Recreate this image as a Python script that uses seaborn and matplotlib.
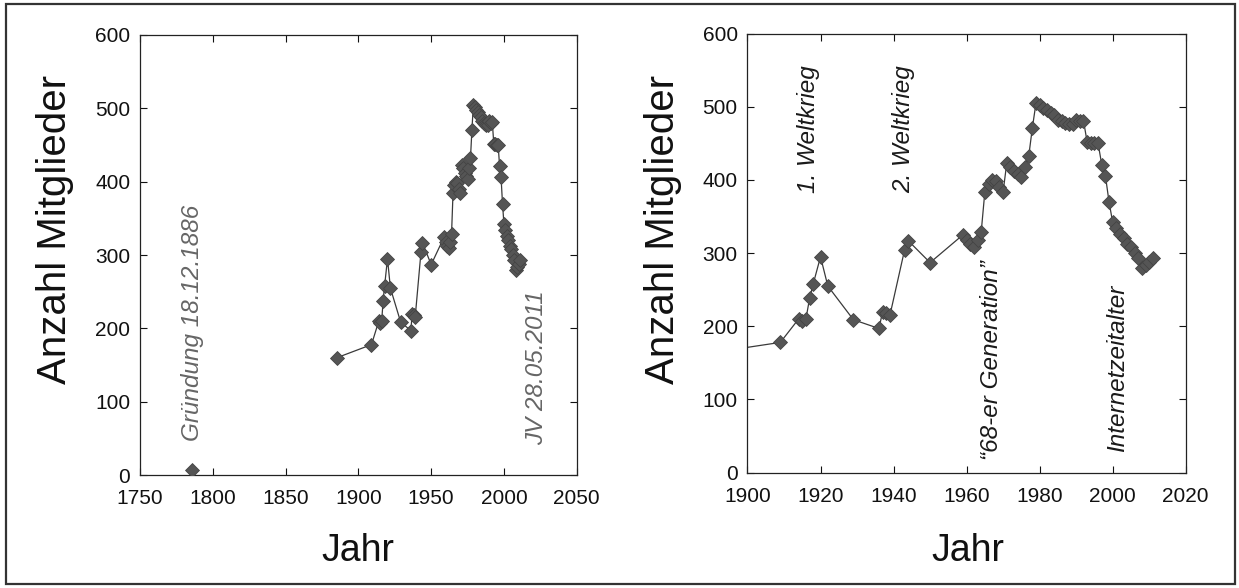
import matplotlib
matplotlib.use("Agg")
import matplotlib.pyplot as plt
import seaborn as sns
from matplotlib.patches import Rectangle

# Mitgliederzahlen
jahre = [1885, 1909, 1914, 1915, 1916, 1917, 1918, 1920, 1922, 1929,
         1936, 1937, 1938, 1939, 1943, 1944, 1950, 1959, 1960, 1961,
         1962, 1963, 1964, 1965, 1966, 1967, 1968, 1969, 1970, 1971,
         1972, 1973, 1974, 1975, 1976, 1977, 1978, 1979, 1980, 1981,
         1982, 1983, 1984, 1985, 1986, 1987, 1988, 1989, 1990, 1991,
         1992, 1993, 1994, 1995, 1996, 1997, 1998, 1999, 2000, 2001,
         2002, 2003, 2004, 2005, 2006, 2007, 2008, 2009, 2010, 2011]
mitglieder = [160, 178, 210, 207, 210, 238, 258, 295, 255, 209,
              197, 220, 218, 215, 304, 317, 287, 325, 318, 313,
              309, 318, 329, 384, 395, 400, 398, 390, 384, 423,
              418, 412, 408, 404, 418, 432, 471, 505, 502, 498,
              495, 491, 488, 482, 480, 478, 477, 477, 482, 480,
              481, 452, 451, 450, 450, 421, 406, 370, 342, 334,
              326, 320, 313, 308, 300, 293, 279, 284, 288, 293]

gruendung_jahr = [1786]
gruendung_wert = [7]

ytick_werte = [0, 100, 200, 300, 400, 500, 600]
xticks_links = [1750, 1800, 1850, 1900, 1950, 2000, 2050]
xticks_rechts = [1900, 1920, 1940, 1960, 1980, 2000, 2020]

sns.set_style("ticks")
plt.rcParams["font.family"] = ["Liberation Sans", "DejaVu Sans"]

MARKER = "#555555"
LINIE = "#3a3a3a"

fig = plt.figure(figsize=(12.39, 5.88), dpi=100)
ax1 = fig.add_axes([0.1130, 0.1917, 0.3525, 0.7490])
ax2 = fig.add_axes([0.6033, 0.1961, 0.3537, 0.7469])

# Rahmen um die ganze Abbildung
fig.patches.append(Rectangle((6 / 1239, 4 / 588), 1229 / 1239, 580 / 588,
                             transform=fig.transFigure, fill=False,
                             edgecolor="#333333", linewidth=1.6))

for ax in (ax1, ax2):
    sns.lineplot(x=jahre, y=mitglieder, ax=ax, color=LINIE, linewidth=0.9,
                 marker="D", markersize=7, markerfacecolor=MARKER,
                 markeredgecolor="#444444", markeredgewidth=0.6)
    ax.set_ylim(0, 600)
    ax.set_yticks(ytick_werte)
    ax.tick_params(direction="in", top=True, right=True, length=5,
                   width=0.8, labelsize=15, pad=7, colors="#111111")
    ax.tick_params(axis="x", pad=10)
    for s in ax.spines.values():
        s.set_linewidth(0.9)
        s.set_color("#222222")
    ax.set_xlabel("")
    ax.set_ylabel("")

sns.scatterplot(x=gruendung_jahr, y=gruendung_wert, ax=ax1, marker="D",
                s=50, color=MARKER, edgecolor="#444444", linewidth=0.6,
                zorder=3)
ax1.set_xlim(1750, 2050)
ax1.set_xticks(xticks_links)
ax2.set_xlim(1900, 2020)
ax2.set_xticks(xticks_rechts)

# Beschriftungen
ax1.text(1786, 207, "Gründung 18.12.1886", rotation=90, ha="center",
         va="center", fontsize=17.5, style="italic", color="#666666")
ax1.text(2022.5, 147, "JV 28.05.2011", rotation=90, ha="center",
         va="center", fontsize=17.5, style="italic", color="#666666")
ax2.text(1916.6, 470, "1. Weltkrieg", rotation=90, ha="center",
         va="center", fontsize=17.5, style="italic", color="#1a1a1a")
ax2.text(1942.8, 470, "2. Weltkrieg", rotation=90, ha="center",
         va="center", fontsize=17.5, style="italic", color="#1a1a1a")
ax2.text(1966.7, 154, "\u201c68-er Generation\u201d", rotation=90,
         ha="center", va="center", fontsize=17.5, style="italic",
         color="#1a1a1a")
ax2.text(2001.4, 143, "Internetzeitalter", rotation=90, ha="center",
         va="center", fontsize=17.5, style="italic", color="#1a1a1a")

fig.text(55 / 1239, 1 - 229 / 588, "Anzahl Mitglieder", rotation=90,
         ha="center", va="center", fontsize=29, color="#111111")
fig.text(663 / 1239, 1 - 229 / 588, "Anzahl Mitglieder", rotation=90,
         ha="center", va="center", fontsize=29, color="#111111")
fig.text(358 / 1239, 1 - 551 / 588, "Jahr", ha="center", va="center",
         fontsize=27, color="#111111")
fig.text(968 / 1239, 1 - 551 / 588, "Jahr", ha="center", va="center",
         fontsize=27, color="#111111")

fig.savefig("out.png", dpi=100)
